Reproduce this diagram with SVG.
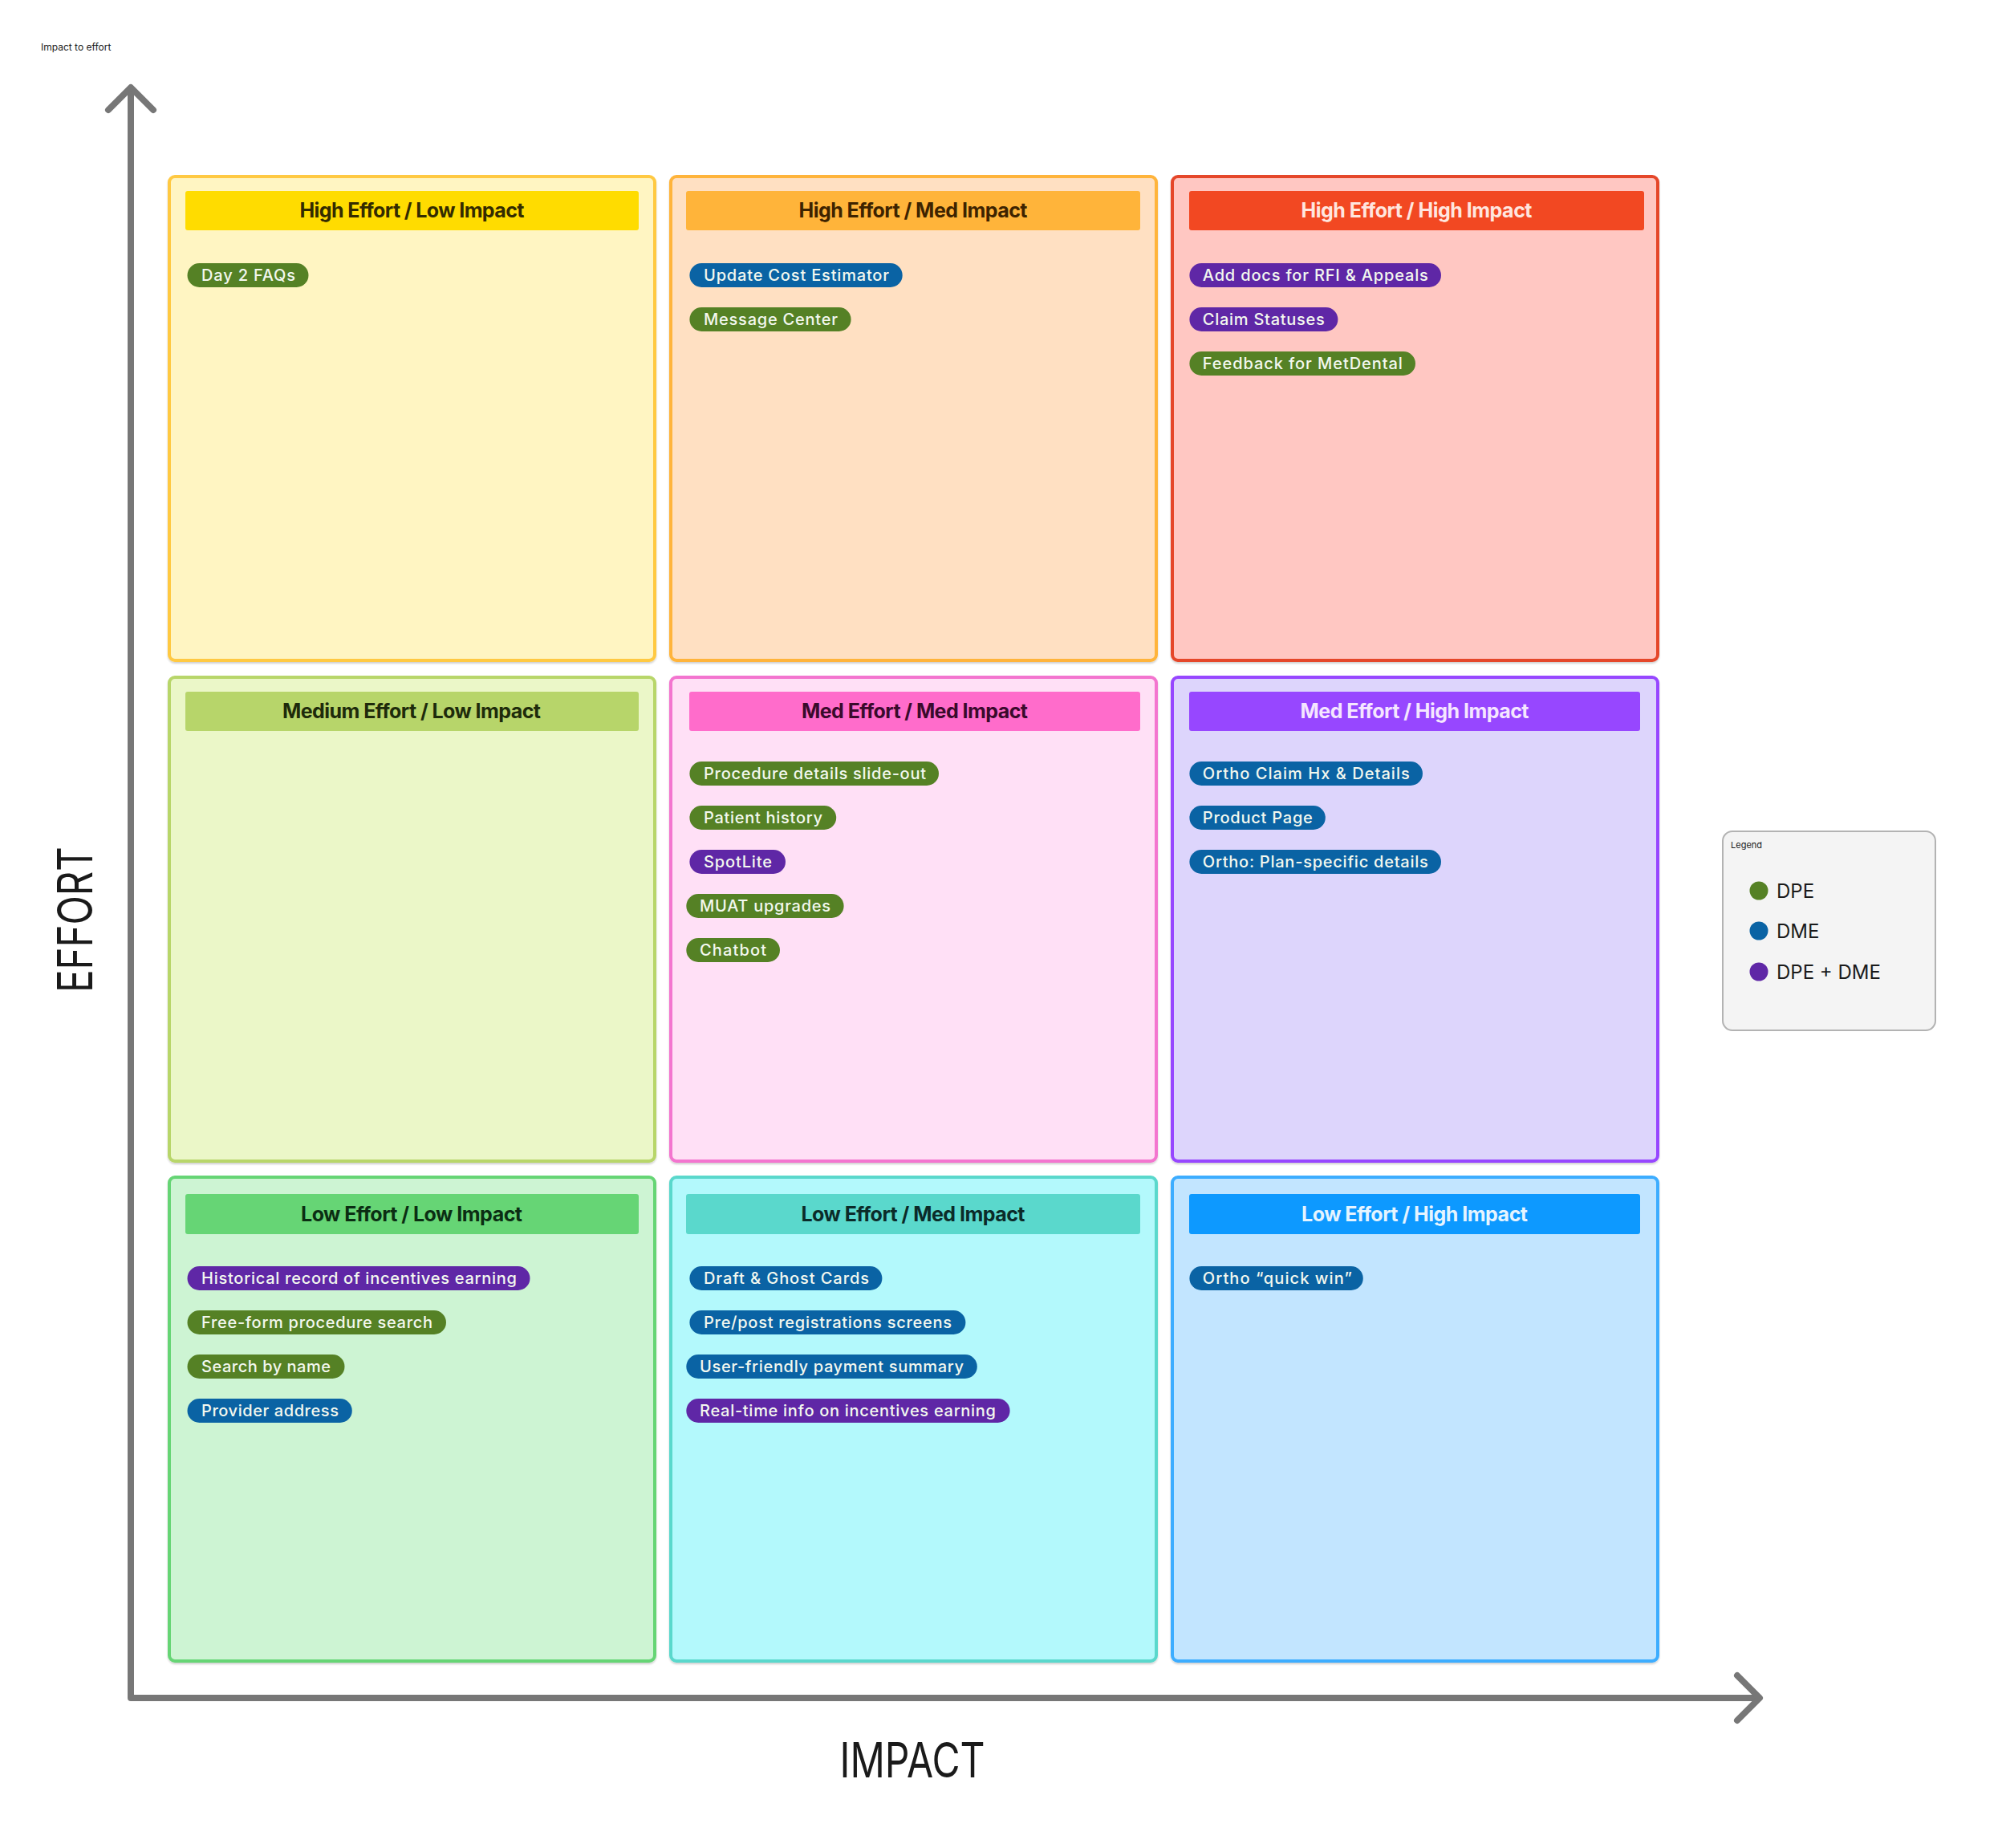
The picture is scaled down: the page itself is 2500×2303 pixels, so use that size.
<svg xmlns="http://www.w3.org/2000/svg" width="2500" height="2303" viewBox="0 0 2500 2303">
<defs>
<style>
.box{stroke-width:4}
.hdr{font-family:Inter,"Liberation Sans",sans-serif;font-weight:700;font-size:25px;text-anchor:middle}
.pill-t{font-family:Inter,"Liberation Sans",sans-serif;font-weight:500;font-size:20px;fill:#F3F8EF}
.g{fill:#558125}.b{fill:#0A63A4}.p{fill:#5F27A6}
.axis{stroke:#777777;stroke-width:8;fill:none;stroke-linecap:round;stroke-linejoin:round}
.big{font-family:Inter,"Liberation Sans",sans-serif;font-weight:400;font-size:60px;fill:#1a1a1a}
.leg{font-family:Inter,"Liberation Sans",sans-serif;font-size:24px;fill:#1a1a1a}
</style>
<filter id="sh" x="-5%" y="-5%" width="110%" height="110%">
<feDropShadow dx="0" dy="2" stdDeviation="1.2" flood-color="#000" flood-opacity="0.18"/>
</filter>
</defs>
<rect width="2500" height="2303" fill="#ffffff"/>
<text x="51" y="63" font-family="Inter,'Liberation Sans',sans-serif" font-size="12" fill="#1a1a1a">Impact to effort</text>

<g id="connectors">
<path class="axis" d="M163 112 V2116 H2192"/>
<path class="axis" d="M135 137 L163 109 L191 137"/>
<path class="axis" d="M2165 2088 L2193 2116 L2165 2144"/>
</g>

<text class="big" x="1137" y="2215" text-anchor="middle" textLength="181" lengthAdjust="spacingAndGlyphs">IMPACT</text>
<text class="big" transform="translate(115 1146) rotate(-90)" x="0" y="0" text-anchor="middle" textLength="182" lengthAdjust="spacingAndGlyphs">EFFORT</text>

<!-- Row 1 -->
<g id="high-effort-low-impact">
<rect class="box" x="211" y="220" width="605" height="603" rx="7" fill="#FFF5C2" stroke="#FFC943" filter="url(#sh)"/>
<rect x="231" y="238" width="565" height="49" rx="3" fill="#FFDC00"/>
<text class="hdr" x="513.5" y="271" fill="#332B00" textLength="280">High Effort / Low Impact</text>
<rect class="g" x="233.5" y="328" width="151" height="30" rx="15"/>
<text class="pill-t" x="251" y="350" textLength="117">Day 2 FAQs</text>
</g>

<g id="high-effort-med-impact">
<rect class="box" x="836" y="220" width="605" height="603" rx="7" fill="#FFE0C2" stroke="#FFB43A" filter="url(#sh)"/>
<rect x="855" y="238" width="566" height="49" rx="3" fill="#FFB43A"/>
<text class="hdr" x="1138" y="271" fill="#3D2300" textLength="285">High Effort / Med Impact</text>
<rect class="b" x="859.4" y="328" width="265.3" height="30" rx="15"/>
<text class="pill-t" x="877" y="350" textLength="231">Update Cost Estimator</text>
<rect class="g" x="859.4" y="383" width="201.2" height="30" rx="15"/>
<text class="pill-t" x="877" y="405" textLength="167">Message Center</text>
</g>

<g id="high-effort-high-impact">
<rect class="box" x="1461" y="220" width="605" height="603" rx="7" fill="#FFC7C2" stroke="#E5472B" filter="url(#sh)"/>
<rect x="1482" y="238" width="567" height="49" rx="3" fill="#F24822"/>
<text class="hdr" x="1765.5" y="271" fill="#FFE6DF" textLength="288">High Effort / High Impact</text>
<rect class="p" x="1482.4" y="328" width="313.6" height="30" rx="15"/>
<text class="pill-t" x="1498.8" y="350" textLength="281">Add docs for RFI &amp; Appeals</text>
<rect class="p" x="1482.4" y="383" width="185" height="30" rx="15"/>
<text class="pill-t" x="1498.8" y="405" textLength="152">Claim Statuses</text>
<rect class="g" x="1482.4" y="438" width="281.6" height="30" rx="15"/>
<text class="pill-t" x="1498.8" y="460" textLength="249">Feedback for MetDental</text>
</g>

<!-- Row 2 -->
<g id="medium-effort-low-impact">
<rect class="box" x="211" y="844" width="605" height="603" rx="7" fill="#EBF7C8" stroke="#B8D66A" filter="url(#sh)"/>
<rect x="231" y="862" width="565" height="49" rx="3" fill="#B7D56A"/>
<text class="hdr" x="513" y="895" fill="#1E2B0B" textLength="322">Medium Effort / Low Impact</text>
</g>

<g id="med-effort-med-impact">
<rect class="box" x="836" y="844" width="605" height="603" rx="7" fill="#FFE0F6" stroke="#F374CF" filter="url(#sh)"/>
<rect x="859" y="862" width="562" height="49" rx="3" fill="#FF6CCB"/>
<text class="hdr" x="1140" y="895" fill="#3A0A2C" textLength="282">Med Effort / Med Impact</text>
<rect class="g" x="859.4" y="949" width="310.6" height="30" rx="15"/>
<text class="pill-t" x="877" y="971" textLength="277">Procedure details slide-out</text>
<rect class="g" x="859.4" y="1004" width="182.8" height="30" rx="15"/>
<text class="pill-t" x="877" y="1026" textLength="148">Patient history</text>
<rect class="p" x="859.4" y="1059" width="119.6" height="30" rx="15"/>
<text class="pill-t" x="877" y="1081" textLength="85">SpotLite</text>
<rect class="g" x="855.3" y="1114" width="196.3" height="30" rx="15"/>
<text class="pill-t" x="872" y="1136" textLength="163">MUAT upgrades</text>
<rect class="g" x="855.3" y="1169" width="116.7" height="30" rx="15"/>
<text class="pill-t" x="872" y="1191" textLength="83">Chatbot</text>
</g>

<g id="med-effort-high-impact">
<rect class="box" x="1461" y="844" width="605" height="603" rx="7" fill="#DDD5FC" stroke="#9747FF" filter="url(#sh)"/>
<rect x="1482" y="862" width="562" height="49" rx="3" fill="#9747FF"/>
<text class="hdr" x="1763" y="895" fill="#F5E6FF" textLength="285">Med Effort / High Impact</text>
<rect class="b" x="1482.4" y="949" width="290.6" height="30" rx="15"/>
<text class="pill-t" x="1498.8" y="971" textLength="258">Ortho Claim Hx &amp; Details</text>
<rect class="b" x="1482.4" y="1004" width="169.4" height="30" rx="15"/>
<text class="pill-t" x="1498.8" y="1026" textLength="137">Product Page</text>
<rect class="b" x="1482.4" y="1059" width="313.6" height="30" rx="15"/>
<text class="pill-t" x="1498.8" y="1081" textLength="281">Ortho: Plan-specific details</text>
</g>

<!-- Row 3 -->
<g id="low-effort-low-impact">
<rect class="box" x="211" y="1467" width="605" height="603" rx="7" fill="#CDF4D3" stroke="#66D575" filter="url(#sh)"/>
<rect x="231" y="1488" width="565" height="50" rx="3" fill="#66D575"/>
<text class="hdr" x="513" y="1522" fill="#0B2E13" textLength="276">Low Effort / Low Impact</text>
<rect class="p" x="233.5" y="1578" width="427" height="30" rx="15"/>
<text class="pill-t" x="251" y="1600" textLength="393">Historical record of incentives earning</text>
<rect class="g" x="233.5" y="1633" width="322.5" height="30" rx="15"/>
<text class="pill-t" x="251" y="1655" textLength="288">Free-form procedure search</text>
<rect class="g" x="233.5" y="1688" width="196" height="30" rx="15"/>
<text class="pill-t" x="251" y="1710" textLength="161">Search by name</text>
<rect class="b" x="233.5" y="1743" width="205.3" height="30" rx="15"/>
<text class="pill-t" x="251" y="1765" textLength="171">Provider address</text>
</g>

<g id="low-effort-med-impact">
<rect class="box" x="836" y="1467" width="605" height="603" rx="7" fill="#B3F9FC" stroke="#5AD8CC" filter="url(#sh)"/>
<rect x="855" y="1488" width="566" height="50" rx="3" fill="#5AD8CC"/>
<text class="hdr" x="1138" y="1522" fill="#0B2B29" textLength="279">Low Effort / Med Impact</text>
<rect class="b" x="859.4" y="1578" width="240" height="30" rx="15"/>
<text class="pill-t" x="877" y="1600" textLength="206">Draft &amp; Ghost Cards</text>
<rect class="b" x="859.4" y="1633" width="344" height="30" rx="15"/>
<text class="pill-t" x="877" y="1655" textLength="309">Pre/post registrations screens</text>
<rect class="b" x="855.3" y="1688" width="362.5" height="30" rx="15"/>
<text class="pill-t" x="872" y="1710" textLength="329">User-friendly payment summary</text>
<rect class="p" x="855.3" y="1743" width="403.3" height="30" rx="15"/>
<text class="pill-t" x="872" y="1765" textLength="369">Real-time info on incentives earning</text>
</g>

<g id="low-effort-high-impact">
<rect class="box" x="1461" y="1467" width="605" height="603" rx="7" fill="#C2E5FF" stroke="#3DADFF" filter="url(#sh)"/>
<rect x="1482" y="1488" width="562" height="50" rx="3" fill="#0D99FF"/>
<text class="hdr" x="1763" y="1522" fill="#E5F4FF" textLength="282">Low Effort / High Impact</text>
<rect class="b" x="1482.4" y="1578" width="216.4" height="30" rx="15"/>
<text class="pill-t" x="1498.8" y="1600" textLength="186">Ortho “quick win”</text>
</g>

<!-- Legend -->
<g id="legend">
<rect x="2147" y="1036" width="265" height="248" rx="12" fill="#F4F4F4" stroke="#B3B3B3" stroke-width="2"/>
<text x="2157" y="1057" font-family="Inter,'Liberation Sans',sans-serif" font-size="11" fill="#1a1a1a">Legend</text>
<circle cx="2192" cy="1110" r="11.5" fill="#558125"/>
<text class="leg" x="2214" y="1119">DPE</text>
<circle cx="2192" cy="1160" r="11.5" fill="#0A63A4"/>
<text class="leg" x="2214" y="1169">DME</text>
<circle cx="2192" cy="1211" r="11.5" fill="#5F27A6"/>
<text class="leg" x="2214" y="1220">DPE + DME</text>
</g>
</svg>
